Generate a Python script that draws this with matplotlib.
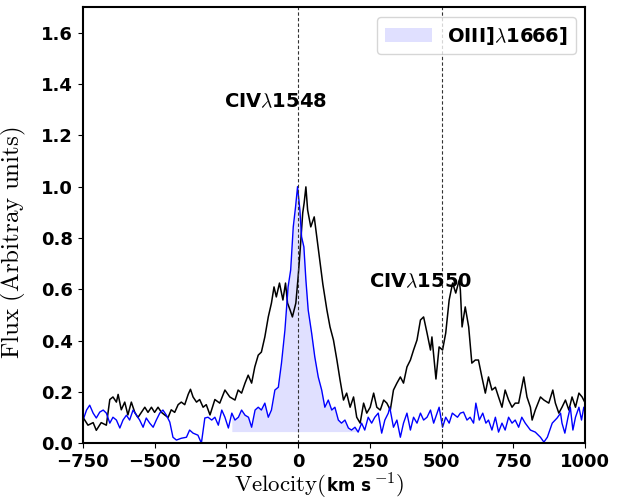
import numpy as np
import matplotlib
matplotlib.use("Agg")
import matplotlib.pyplot as plt
from matplotlib.offsetbox import TextArea, HPacker, AnchoredOffsetbox

plt.rcParams['mathtext.fontset'] = 'cm'

# CIV 1548/1550 profile (black)
civ_v = [-749, -732, -714, -703, -686, -668, -656, -645, -633, -627, -616, -604, -593, -581,
         -569, -558, -546, -534, -523, -511, -500, -488, -476, -465, -453, -442, -430, -418,
         -407, -395, -383, -375, -366, -354, -343, -331, -320, -307, -290, -273, -255, -238,
         -220, -209, -197, -185, -174, -162, -151, -139, -128, -116, -104, -93, -84, -76,
         -65, -53, -44, -37, -28, -20, -8, 0, 7, 16, 21, 27, 33, 44, 56, 65, 74, 86, 100,
         111, 123, 135, 146, 158, 169, 181, 193, 204, 216, 228, 239, 251, 263, 274, 286,
         298, 309, 321, 332, 344, 356, 367, 379, 391, 402, 414, 426, 437, 449, 461, 466,
         480, 491, 503, 514, 526, 538, 549, 561, 565, 571, 582, 594, 605, 617, 628, 640,
         652, 663, 675, 687, 698, 710, 721, 733, 745, 756, 768, 786, 797, 809, 815, 826,
         844, 856, 873, 887, 896, 908, 919, 931, 943, 954, 966, 978, 989, 1000]
civ_f = [0.10, 0.07, 0.08, 0.05, 0.08, 0.07, 0.17, 0.18, 0.16, 0.19, 0.13, 0.16, 0.11, 0.16,
         0.12, 0.10, 0.12, 0.14, 0.12, 0.14, 0.12, 0.14, 0.12, 0.11, 0.10, 0.13, 0.12, 0.15,
         0.16, 0.15, 0.19, 0.21, 0.18, 0.16, 0.17, 0.14, 0.15, 0.11, 0.17, 0.156, 0.207, 0.18,
         0.168, 0.207, 0.195, 0.234, 0.265, 0.234, 0.297, 0.343, 0.355, 0.414, 0.492, 0.546, 0.609, 0.57,
         0.624, 0.558, 0.624, 0.546, 0.519, 0.492, 0.546, 0.648, 0.753, 0.898, 0.937, 0.999, 0.909, 0.843, 0.882, 0.804, 0.726, 0.62, 0.52,
         0.453, 0.402, 0.324, 0.246, 0.168, 0.195, 0.14, 0.18, 0.101, 0.078, 0.156, 0.117, 0.14, 0.195, 0.14, 0.129,
         0.168, 0.156, 0.129, 0.207, 0.234, 0.258, 0.234, 0.297, 0.324, 0.363, 0.402, 0.48, 0.492, 0.429, 0.363, 0.414,
         0.25, 0.375, 0.363, 0.429, 0.558, 0.624, 0.585, 0.636, 0.597, 0.453, 0.531, 0.453, 0.312, 0.324, 0.324, 0.258,
         0.195, 0.258, 0.207, 0.218, 0.18, 0.14, 0.207, 0.168, 0.14, 0.156, 0.156, 0.258, 0.18, 0.14, 0.09, 0.129,
         0.18, 0.168, 0.156, 0.207, 0.156, 0.117, 0.14, 0.168, 0.129, 0.18, 0.14, 0.195, 0.18, 0.156]

# OIII] 1666 profile (blue)
oiii_v = [-749, -737, -726, -714, -703, -691, -679, -668, -656, -645, -633, -621, -610, -598,
          -587, -575, -563, -552, -540, -529, -517, -505, -494, -482, -471, -459, -447, -436,
          -424, -407, -389, -378, -366, -349, -337, -325, -314, -301, -290, -278, -266, -255,
          -243, -231, -220, -208, -197, -185, -173, -162, -150, -139, -128, -116, -104, -93,
          -81, -69, -58, -46, -35, -26, -17, -9, -2, 6, 12, 20, 27, 35, 47, 58, 70, 82, 93,
          105, 117, 128, 140, 151, 163, 175, 186, 198, 209, 221, 232, 244, 256, 267, 279,
          291, 302, 314, 319, 332, 344, 356, 367, 379, 391, 402, 414, 426, 437, 449, 461,
          472, 491, 503, 514, 526, 537, 555, 565, 576, 588, 599, 611, 619, 631, 643, 654,
          663, 675, 687, 698, 710, 721, 733, 745, 756, 768, 779, 791, 809, 826, 844, 856,
          868, 885, 902, 914, 919, 929, 940, 948, 957, 966, 978, 987, 995, 1000]
oiii_f = [0.09, 0.129, 0.148, 0.117, 0.098, 0.121, 0.129, 0.117, 0.078, 0.101, 0.09, 0.059, 0.09, 0.109,
          0.09, 0.129, 0.109, 0.09, 0.062, 0.098, 0.078, 0.062, 0.09, 0.117, 0.129, 0.109, 0.082, 0.023,
          0.012, 0.019, 0.023, 0.051, 0.039, 0.031, 0.0, 0.098, 0.101, 0.09, 0.101, 0.07, 0.129, 0.101,
          0.059, 0.117, 0.09, 0.101, 0.129, 0.109, 0.101, 0.062, 0.129, 0.14, 0.129, 0.156, 0.101, 0.129,
          0.207, 0.218, 0.312, 0.441, 0.609, 0.675, 0.843, 0.921, 1.0, 0.909, 0.804, 0.765, 0.636, 0.519, 0.429, 0.336, 0.258, 0.207, 0.14,
          0.168, 0.129, 0.14, 0.09, 0.078, 0.09, 0.059, 0.051, 0.062, 0.043, 0.078, 0.051, 0.101, 0.078, 0.101, 0.117,
          0.039, 0.09, 0.117, 0.14, 0.062, 0.09, 0.023, 0.078, 0.117, 0.051, 0.101, 0.078, 0.117, 0.09, 0.101, 0.129,
          0.078, 0.14, 0.062, 0.101, 0.078, 0.117, 0.101, 0.117, 0.121, 0.09, 0.101, 0.078, 0.156, 0.09, 0.117, 0.078,
          0.09, 0.051, 0.101, 0.043, 0.078, 0.051, 0.101, 0.078, 0.09, 0.062, 0.101, 0.078, 0.051, 0.043, 0.023, 0.004,
          0.023, 0.078, 0.098, 0.117, 0.078, 0.039, 0.101, 0.14, 0.051, 0.101, 0.14, 0.09, 0.14, 0.117]

line_pos = [0, 500]
fill_range = (-240, 210)
fill_base = 0.045

oiii_v = np.array(oiii_v)
oiii_f = np.array(oiii_f)

fig = plt.figure(figsize=(6.18, 5.03), dpi=100)
ax = fig.add_axes([0.134, 0.119, 0.813, 0.867])

ax.plot(civ_v, civ_f, color='black', lw=1.1)
ax.plot(oiii_v, oiii_f, color='blue', lw=1.0)
m = (oiii_v >= fill_range[0]) & (oiii_v <= fill_range[1])
ax.fill_between(oiii_v[m], oiii_f[m], fill_base, color='blue', alpha=0.12, lw=0,
                label=r'OIII]$\lambda$1666]')

for p in line_pos:
    ax.axvline(p, color='#333333', ls=(0, (3, 2)), lw=0.8)

ax.text(-77, 1.33, r'CIV$\lambda$1548', fontsize=14, fontweight='bold', ha='center', va='center')
ax.text(425, 0.63, r'CIV$\lambda$1550', fontsize=14, fontweight='bold', ha='center', va='center')

ax.set_xlim(-750, 1000)
ax.set_ylim(0, 1.7)
ax.set_xticks([-750, -500, -250, 0, 250, 500, 750, 1000])
ax.set_yticks([0.0, 0.2, 0.4, 0.6, 0.8, 1.0, 1.2, 1.4, 1.6])
for lab in ax.get_xticklabels() + ax.get_yticklabels():
    lab.set_fontweight('bold')
    lab.set_fontsize(13)
for s in ax.spines.values():
    s.set_linewidth(1.5)

# x label: serif "Velocity" with a bold sans unit
parts = [TextArea(r'$\mathrm{Velocity(}$', textprops=dict(fontsize=16.5)),
         TextArea('km s', textprops=dict(fontsize=12, fontweight='bold')),
         TextArea(r'$^{-1}\mathrm{)}$', textprops=dict(fontsize=16.5))]
box = HPacker(children=parts, align='baseline', pad=0, sep=1)
xlab = AnchoredOffsetbox(loc='upper center', child=box, bbox_to_anchor=(0.47, -0.062),
                         bbox_transform=ax.transAxes, frameon=False, pad=0, borderpad=0)
ax.add_artist(xlab)

ax.set_ylabel(r'$\mathrm{Flux\ (Arbitray\ units)}$', fontsize=18)
ax.yaxis.set_label_coords(-0.11, 0.46)

leg = ax.legend(loc='upper right', prop={'weight': 'bold', 'size': 14}, handlelength=2.4)

fig.savefig('out.png', dpi=100)
